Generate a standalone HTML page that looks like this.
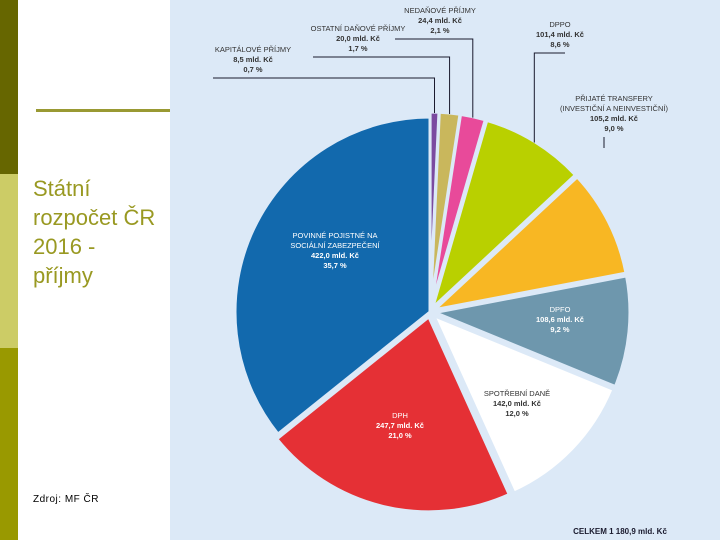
<!DOCTYPE html>
<html><head><meta charset="utf-8">
<style>
body{margin:0;width:720px;height:540px;overflow:hidden;background:#fff;font-family:"Liberation Sans",sans-serif;position:relative}
.bar{position:absolute;left:0;width:18px}
</style></head><body>
<div class="bar" style="top:0;height:174px;background:#666600"></div>
<div class="bar" style="top:174px;height:174px;background:#cccc66"></div>
<div class="bar" style="top:348px;height:192px;background:#999900"></div>
<div style="position:absolute;left:36px;top:109px;width:134px;height:3px;background:#999933"></div>
<div style="position:absolute;left:33px;top:174px;font-size:22px;line-height:29px;color:#999922">Státní<br>rozpočet ČR<br>2016 -<br>příjmy</div>
<div style="position:absolute;left:33px;top:494px;font-size:10px;letter-spacing:0.5px;color:#000">Zdroj: MF ČR</div>
<svg width="550" height="540" style="position:absolute;left:170px;top:0" viewBox="170 0 550 540">
<rect x="170" y="0" width="550" height="540" fill="#dce9f7"/>
<g id="slices"></g>
<g id="labels" font-family="Liberation Sans, sans-serif" font-size="7.5" text-anchor="middle"></g>
<text x="620" y="534" font-size="8" font-weight="bold" text-anchor="middle" fill="#1a1a2e">CELKEM 1 180,9 mld. Kč</text>
</svg>
<script>
const categories=["KAPITÁLOVÉ PŘÍJMY","OSTATNÍ DAŇOVÉ PŘÍJMY","NEDAŇOVÉ PŘÍJMY","DPPO","PŘIJATÉ TRANSFERY","DPFO","SPOTŘEBNÍ DANĚ","DPH","POVINNÉ POJISTNÉ NA SOCIÁLNÍ ZABEZPEČENÍ"];
const values=[8.5,20.0,24.4,101.4,105.2,108.6,142.0,247.7,422.0];
const valueLabels=["8,5 mld. Kč","20,0 mld. Kč","24,4 mld. Kč","101,4 mld. Kč","105,2 mld. Kč","108,6 mld. Kč","142,0 mld. Kč","247,7 mld. Kč","422,0 mld. Kč"];
const pctLabels=["0,7 %","1,7 %","2,1 %","8,6 %","9,0 %","9,2 %","12,0 %","21,0 %","35,7 %"];
const colors=["#7b4aa0","#c9b75c","#e84a9a","#b9d000","#f8b723","#6e97ad","#ffffff","#e53035","#1269ad"];
const cx=430,cy=312,R=195;
const total=values.reduce((a,b)=>a+b,0);
const NS="http://www.w3.org/2000/svg";
const g=document.getElementById('slices'),lg=document.getElementById('labels');
let a=0;const mids=[];
values.forEach((v,i)=>{
  const a0=a,a1=a+v/total*2*Math.PI;a=a1;const m=(a0+a1)/2;mids.push(m);
  const off=i===8?0:5;
  const ox=cx+off*Math.sin(m),oy=cy-off*Math.cos(m);
  const p=(t)=>[ox+R*Math.sin(t),oy-R*Math.cos(t)];
  const [x0,y0]=p(a0),[x1,y1]=p(a1);
  const path=document.createElementNS(NS,'path');
  path.setAttribute('d',`M${ox},${oy}L${x0},${y0}A${R},${R} 0 ${a1-a0>Math.PI?1:0} 1 ${x1},${y1}Z`);
  path.setAttribute('fill',colors[i]);path.setAttribute('stroke','#dce9f7');path.setAttribute('stroke-width','3');
  
  
  g.appendChild(path);
});
const pos=[[253,52,'#333'],[358,31,'#333'],[440,13,'#333'],[560,27,'#333'],[614,101,'#333'],[560,312,'#fff'],[517,396,'#333'],[400,418,'#fff'],[335,238,'#fff']];
const inside=[false,false,false,false,false,true,true,true,true];
categories.forEach((c,i)=>{
  const [x,y,col]=pos[i];
  let lines=[c];
  if(i===4)lines=["PŘIJATÉ TRANSFERY","(INVESTIČNÍ A NEINVESTIČNÍ)"];
  if(i===8)lines=["POVINNÉ POJISTNÉ NA","SOCIÁLNÍ ZABEZPEČENÍ"];
  const all=lines.concat([valueLabels[i],pctLabels[i]]);
  all.forEach((t,k)=>{
    const tx=document.createElementNS(NS,'text');
    tx.setAttribute('x',x);tx.setAttribute('y',y+k*10);tx.setAttribute('fill',col);
    if(k>=lines.length)tx.setAttribute('font-weight','bold');
    tx.textContent=t;
    
    
    lg.appendChild(tx);
  });
  if(!inside[i]){
    const m=mids[i];
    const ex=cx+(R+4)*Math.sin(m),ey=cy-(R+4)*Math.cos(m);
    const ly=y+(lines.length+2)*10-4;
    const pl=document.createElementNS(NS,'polyline');
    let pts;
    if(i===4)pts=`604,${ly} 604,148`;
    else{const sx=i===0?213:(i===3?565:x-45);pts=`${sx},${ly} ${ex},${ly} ${ex},${ey}`;}
    pl.setAttribute('points',pts);pl.setAttribute('fill','none');pl.setAttribute('stroke','#1a1a2e');pl.setAttribute('stroke-width','1');
    
    
    lg.appendChild(pl);
  }
});
</script>
</body></html>
